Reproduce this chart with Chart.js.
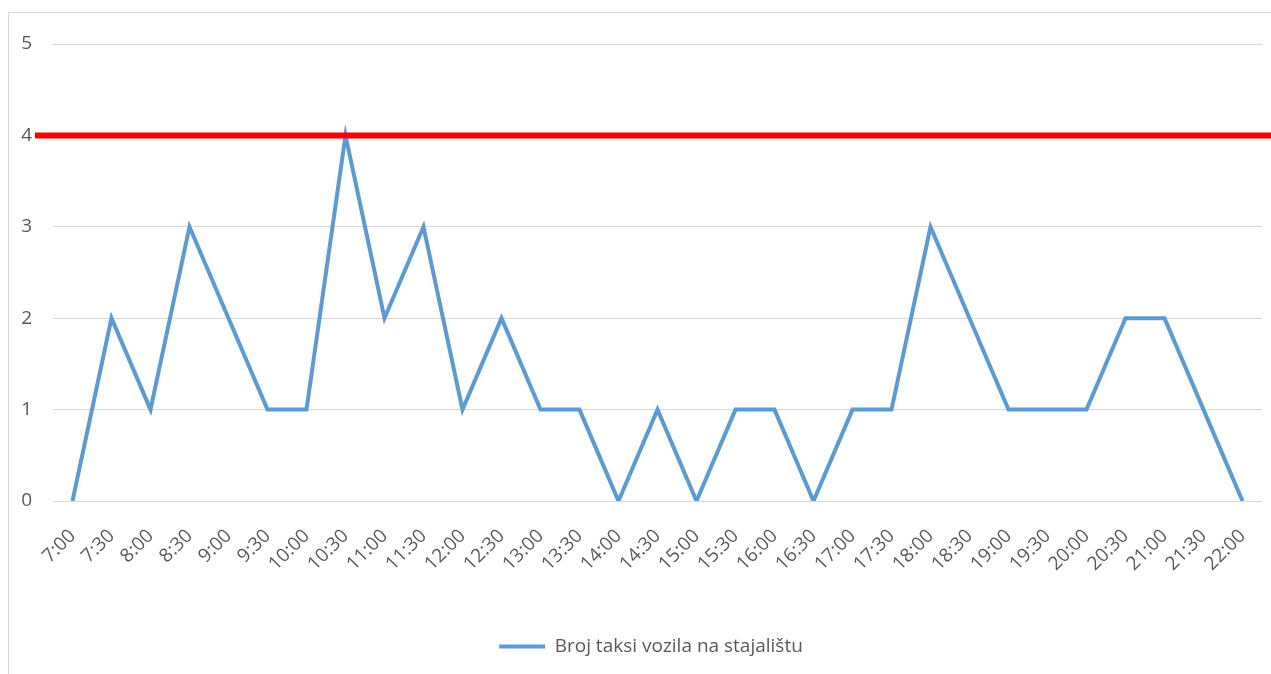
<!DOCTYPE html>
<html>
<head>
<meta charset="utf-8">
<script src="https://cdn.jsdelivr.net/npm/chart.js@4"></script>
<style>
  html, body { margin: 0; padding: 0; background: #fff; }
  #wrap { width: 1271px; height: 674px; position: relative; }
</style>
</head>
<body>
<div id="wrap"><canvas id="myChart"></canvas></div>
<script>
// -------------------------------- data --------------------------------
var times = ["7:00", "7:30", "8:00", "8:30", "9:00", "9:30", "10:00", "10:30", "11:00", "11:30",
  "12:00", "12:30", "13:00", "13:30", "14:00", "14:30", "15:00", "15:30", "16:00", "16:30",
  "17:00", "17:30", "18:00", "18:30", "19:00", "19:30", "20:00", "20:30", "21:00", "21:30", "22:00"];
var taxiCount = [0, 2, 1, 3, 2, 1, 1, 4, 2, 3,
  1, 2, 1, 1, 0, 1, 0, 1, 1, 0,
  1, 1, 3, 2, 1, 1, 1, 2, 2, 1, 0];
var yTicks = [0, 1, 2, 3, 4, 5];
var capacity = 4;

var txt = "#595959";
var font = { family: "'Open Sans', sans-serif", size: 19 };

// frame round the chart + red capacity line
var extras = {
  id: "extras",
  afterLayout: function (chart) {
    // legend is centred on the frame, not on the canvas
    chart.legend.left += 40;
  },
  beforeDraw: function (chart) {
    var c = chart.ctx;
    c.save();
    c.strokeStyle = "#d9d9d9";
    c.lineWidth = 1;
    c.strokeRect(8.5, 12.5, chart.width + 20, chart.height + 20);
    c.restore();
  },
  afterDatasetsDraw: function (chart) {
    var c = chart.ctx;
    var y = chart.scales.y.getPixelForValue(capacity);
    c.save();
    c.strokeStyle = "#ff0000";
    c.lineWidth = 6;
    c.beginPath();
    c.moveTo(35, y);
    c.lineTo(chart.width, y);
    c.stroke();
    c.restore();
  }
};

new Chart("myChart", {
  type: "line",
  data: {
    labels: times,
    datasets: [{
      label: "Broj taksi vozila na stajalištu",
      data: taxiCount,
      borderColor: "#5b9bd5",
      backgroundColor: "#5b9bd5",
      borderWidth: 4,
      pointRadius: 0,
      tension: 0,
      fill: false
    }]
  },
  options: {
    responsive: true,
    maintainAspectRatio: false,
    animation: false,
    layout: { padding: { top: 44, left: 0, right: 9, bottom: 8 } },
    plugins: {
      legend: {
        position: "bottom",
        labels: {
          usePointStyle: true,
          pointStyle: "line",
          pointStyleWidth: 46,
          color: txt,
          font: font,
          padding: 10
        }
      },
      tooltip: { enabled: false }
    },
    scales: {
      x: {
        offset: true,
        grid: { display: false },
        border: { display: false },
        ticks: { color: txt, font: font, maxRotation: 45, minRotation: 45, autoSkip: false, padding: 16 },
        afterFit: function (s) { s.height = 126; s.paddingLeft = 0; s.paddingRight = 0; }
      },
      y: {
        min: 0,
        max: 5,
        afterBuildTicks: function (s) { s.ticks = yTicks.map(function (v) { return { value: v }; }); },
        afterFit: function (s) { s.width = 53; },
        grid: { color: "#d9d9d9", lineWidth: 1, drawTicks: false },
        border: { display: false },
        ticks: { color: txt, font: font, padding: 21 }
      }
    }
  },
  plugins: [extras]
});
</script>
</body>
</html>
